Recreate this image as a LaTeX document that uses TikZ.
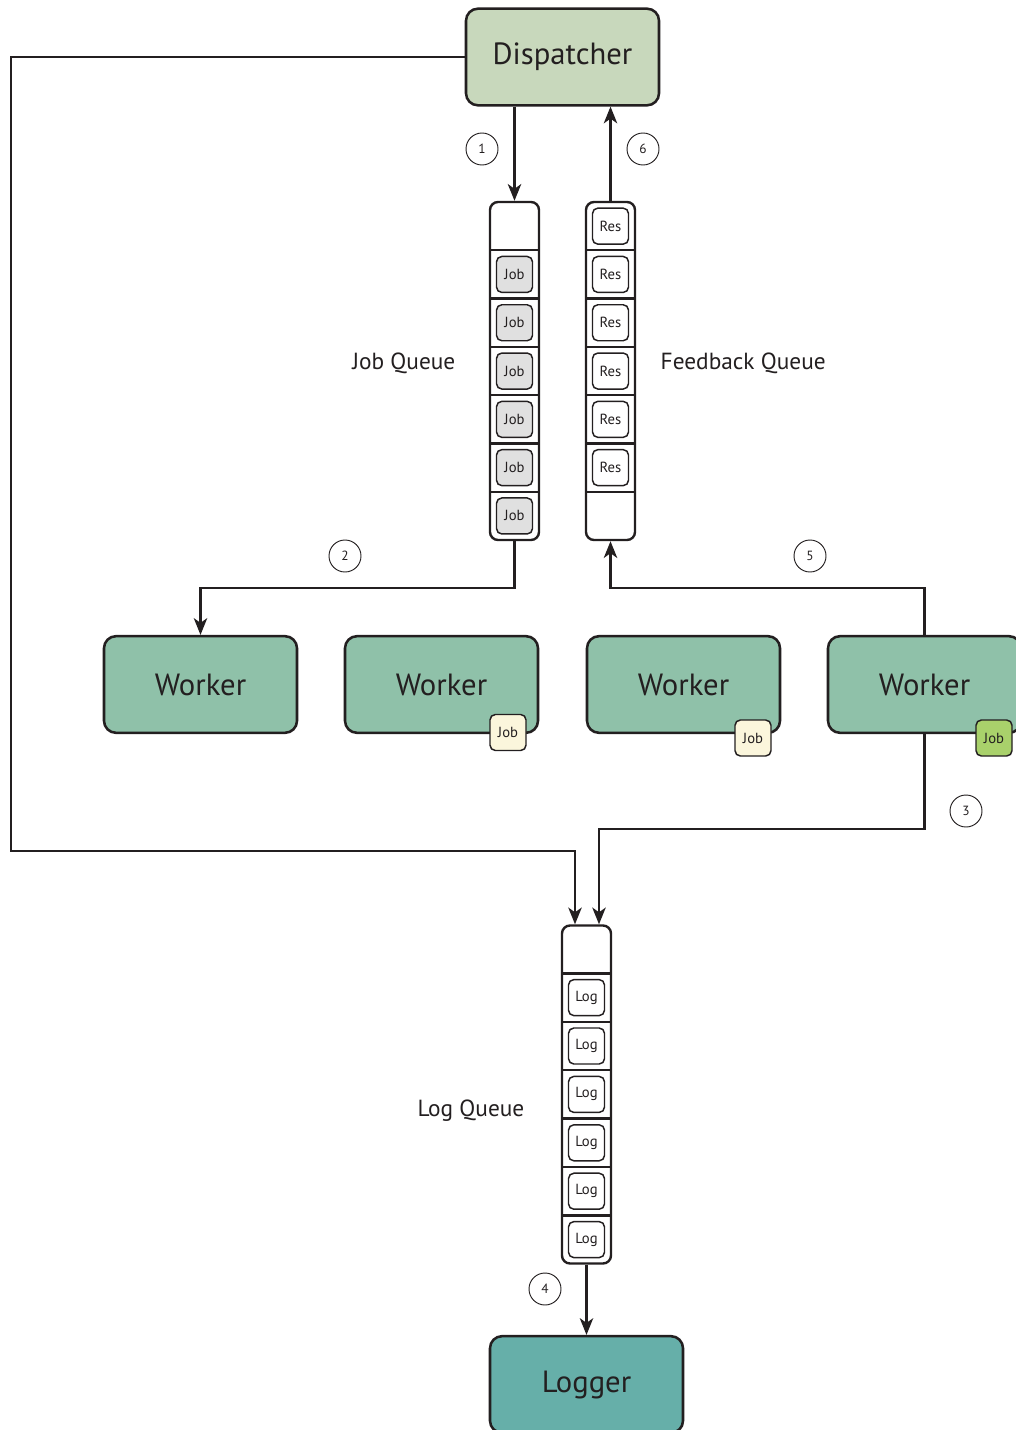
\documentclass[tikz,border=0pt]{standalone}
\usepackage{fontspec}
\setmainfont{PT Sans}
\usetikzlibrary{arrows.meta,calc}
\definecolor{ink}{HTML}{231F20}
\definecolor{dispfill}{HTML}{C8D8BC}
\definecolor{workfill}{HTML}{8FC1A9}
\definecolor{logfill}{HTML}{66AFA9}
\definecolor{jobgray}{HTML}{E0E0E0}
\definecolor{cream}{HTML}{FBF6DC}
\definecolor{jobgreen}{HTML}{A9D16B}
\tikzset{
  bigbox/.style={draw=ink,line width=1.9pt,rounded corners=9pt,minimum width=144.75pt,minimum height=72.5pt,font=\fontsize{23}{23}\selectfont,text=ink},
  queuebox/.style={draw=ink,line width=1.8pt,rounded corners=6pt,minimum width=36.75pt,minimum height=253.5pt,inner sep=0pt},
  itembox/.style={draw=ink,line width=1.1pt,rounded corners=4pt,minimum size=27pt,inner sep=0pt,font=\fontsize{11}{11}\selectfont,text=ink},
  badge/.style={itembox,minimum size=27pt},
  stepnum/.style={draw=ink,line width=0.7pt,circle,minimum size=24pt,inner sep=0pt,font=\fontsize{10}{10}\selectfont,text=ink},
  qlabel/.style={font=\fontsize{17.5}{17.5}\selectfont,text=ink},
  conn/.style={draw=ink,line width=1.9pt,-{Stealth[length=12.5pt,width=10pt,inset=3.5pt]}},
}
\begin{document}
\begin{tikzpicture}[x=0.75pt,y=-0.75pt]
\useasboundingbox (0,0) rectangle (1016,1430);
% main boxes
\node[bigbox,fill=dispfill] (disp) at (562.5,57) {\raisebox{-1.5pt}{Dispatcher}};
\node[bigbox,fill=workfill] (w1) at (200.5,684.5) {Worker};
\node[bigbox,fill=workfill] (w2) at (441.5,684.5) {Worker};
\node[bigbox,fill=workfill] (w3) at (683.5,684.5) {Worker};
\node[bigbox,fill=workfill] (w4) at (924.5,684.5) {Worker};
\node[bigbox,fill=logfill] (logger) at (586.5,1384.5) {Logger};
% queues
\node[queuebox] (jq) at (514.5,371) {};
\node[queuebox] (fq) at (610.5,371) {};
\node[queuebox] (lq) at (586.5,1094.5) {};
\foreach \k in {1,...,6}{
  \draw[ink,line width=1.8pt] (490,202+48.3*\k) -- (539,202+48.3*\k);
  \draw[ink,line width=1.8pt] (586,202+48.3*\k) -- (635,202+48.3*\k);
  \draw[ink,line width=1.8pt] (562,925+48.4*\k) -- (611,925+48.4*\k);
}
\foreach \k in {1,...,6}{
  \node[itembox,fill=jobgray] (job\k) at (514.5,202+48.3*\k+24.15) {Job};
  \node[itembox,fill=white] (res\k) at (610.5,202+48.3*\k-24.15) {Res};
  \node[itembox,fill=white] (log\k) at (586.5,925+48.4*\k+24.2) {Log};
}
% labels
\node[qlabel,anchor=east] (jql) at (460,363) {Job Queue};
\node[qlabel,anchor=west] (fql) at (656,363) {Feedback Queue};
\node[qlabel,anchor=east] (lql) at (529,1111) {Log Queue};
% badges
\node[badge,fill=cream] (b2) at (508,732.5) {Job};
\node[badge,fill=cream] (b3) at (753,738) {Job};
\node[badge,fill=jobgreen] (b4) at (994,738) {Job};
% step numbers
\node[stepnum] (n1) at (482,149) {1};
\node[stepnum] (n2) at (345,556) {2};
\node[stepnum] (n3) at (966,811) {3};
\node[stepnum] (n4) at (545,1289) {4};
\node[stepnum] (n5) at (810,556) {5};
\node[stepnum] (n6) at (643,149) {6};
% connectors
\coordinate (c2) at (514.5,588);
\coordinate (c5) at (610.5,588);
\coordinate (c3) at (599,829);
\coordinate (d1) at (11,851);
\coordinate (d2) at (575,851);
\draw[conn] (disp.south -| jq.north) -- (jq.north);
\draw[conn] (fq.north) -- (fq.north |- disp.south);
\draw[conn] (jq.south) -- (c2) -| (w1.north);
\draw[conn] (w4.north) |- (c5) -- (fq.south);
\draw[conn] (w4.south) |- (c3) -- (c3 |- lq.north);
\draw[conn] (disp.west) -| (d1) -- (d2) -- (d2 |- lq.north);
\draw[conn] (lq.south) -- (logger.north);
\end{tikzpicture}
\end{document}
